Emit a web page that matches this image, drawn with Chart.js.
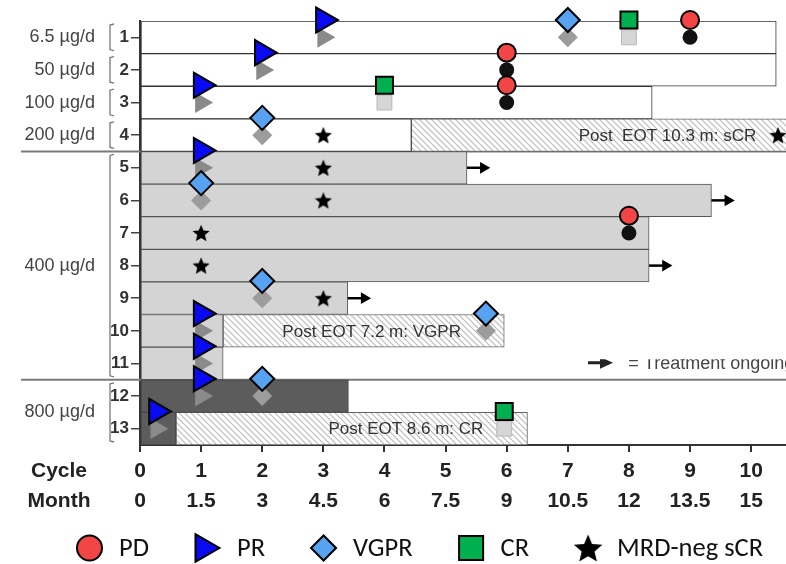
<!DOCTYPE html>
<html><head><meta charset="utf-8">
<script src="https://cdn.jsdelivr.net/npm/chart.js@4/dist/chart.umd.min.js"></script>
<style>html,body{margin:0;padding:0;background:#fff}</style>
</head><body>
<canvas id="c" width="786" height="564"></canvas>
<script>
// ---------- data ----------
const patientRows = [1,2,3,4,5,6,7,8,9,10,11,12,13];
const cycleTicks = ['0','1','2','3','4','5','6','7','8','9','10'];
const monthTicks = ['0','1.5','3','4.5','6','7.5','9','10.5','12','13.5','15'];

const doseLabels   = ['6.5 µg/d','50 µg/d','100 µg/d','200 µg/d','400 µg/d','800 µg/d'];
const doseFirstRow = [1,2,3,4,5,12];
const doseLastRow  = [1,2,3,4,11,13];
const doseLabelRow = [1,2,3,4,8,12.5];
const groupBreakAfter = [4,11];

const barRow   = [1,2,3,4,4,5,6,7,8,9,10,10,11,12,13,13];
const barStart = [0,0,0,0,4.44,0,0,0,0,0,0,1.36,0,0,0,0.59];
const barEnd   = [10.41,10.41,8.38,4.44,11,5.35,9.35,8.33,8.33,3.40,1.36,5.96,1.36,3.41,0.59,6.34];
const barKind  = ['white','white','white','white','post','light','light','light','light','light','light','post','light','dark','dark','post'];

const ongoingRow  = [5,6,8,9];
const ongoingFrom = [5.35,9.35,8.33,3.40];

const pdRow   = [1,2,3,7],             pdCycle   = [9,6,6,8];
const prRow   = [1,2,3,5,10,11,12,13], prCycle   = [3,2,1,1,1,1,1,0.27];
const vgprRow = [1,4,6,9,10,12],       vgprCycle = [7,2,1,2,5.66,2];
const crRow   = [1,3,13],              crCycle   = [8,4,5.96];
const scrRow  = [4,4,5,6,7,8,9],       scrCycle  = [3,10.44,3,3,1,1,3];

const postText  = ['Post  EOT 10.3 m: sCR','Post EOT 7.2 m: VGPR','Post EOT 8.6 m: CR'];
const postRow   = [4,10,13];
const postCycle = [8.63,3.79,4.35];

const legendNames = ['PD','PR','VGPR','CR','MRD-neg sCR'];

// ---------- helpers ----------
function makeHatch(){
  const c=document.createElement('canvas'); c.width=6; c.height=6;
  const g=c.getContext('2d'); g.fillStyle='#fff'; g.fillRect(0,0,6,6);
  g.strokeStyle='#b9b9b9'; g.lineWidth=1.1;
  g.beginPath(); g.moveTo(0,0); g.lineTo(6,6); g.moveTo(-1,5); g.lineTo(1,7); g.moveTo(5,-1); g.lineTo(7,1); g.stroke();
  return document.createElement('canvas').getContext('2d').createPattern(c,'repeat');
}
function starCanvas(R, inner){
  const size=Math.ceil(2*R)+2;
  const c=document.createElement('canvas'); c.width=size; c.height=size;
  const g=c.getContext('2d'); g.fillStyle='#000'; g.beginPath();
  const cx=size/2, cy=size/2+0.0955*R;
  for(let k=0;k<10;k++){const a=-Math.PI/2+k*Math.PI/5; const rr=k%2?R*inner:R; g.lineTo(cx+rr*Math.cos(a), cy+rr*Math.sin(a));}
  g.closePath(); g.fill(); return c;
}
const hatch = makeHatch();
const starSmall = starCanvas(9, 0.45);
const starBig = starCanvas(15, 0.45);
const LIFT = -0.53;
const pts = (rows, cyc, dy) => rows.map((r,i)=>({x:cyc[i], y:r+dy}));
const SANS = '"Liberation Sans", Arial, sans-serif';

const fills   = {white:'#ffffff', light:'#d4d4d4', dark:'#5c5c5c', post:hatch};
const borders = {white:'#333333', light:'#555555', dark:'#444444', post:'#666666'};

const barDatasets = ['white','light','dark','post'].map(k => ({
  type:'bar', indexAxis:'y', grouped:false, order:10,
  data: barRow.map((r,i)=>({x:[barStart[i],barEnd[i]], y:r, k:barKind[i]})).filter(d=>d.k===k),
  backgroundColor: fills[k], borderColor: borders[k], borderWidth:1, borderSkipped:false,
  barPercentage:1, categoryPercentage:1
}));

const arrowShafts = ongoingRow.map((r,i)=>({
  type:'line', order:8, clip:false,
  data:[{x:ongoingFrom[i], y:r},{x:ongoingFrom[i]+0.24, y:r}],
  borderColor:'#000', borderWidth:2.5, pointRadius:0, fill:false
}));
const arrowHeads = {
  type:'scatter', order:8, clip:false,
  data: ongoingRow.map((r,i)=>({x:ongoingFrom[i]+0.27, y:r})),
  pointStyle:'triangle', rotation:90, pointRadius:6.8, backgroundColor:'#000', borderWidth:0
};

const sc = (label, data, opt) => Object.assign({type:'scatter', label, data, clip:false}, opt);
const markerDatasets = [
  sc('pd-shadow',   pts(pdRow,pdCycle,0),     {order:5, pointStyle:'circle', pointRadius:7.5, backgroundColor:'#111', borderWidth:0}),
  sc('pr-shadow',   pts(prRow,prCycle,0),     {order:5, pointStyle:'triangle', rotation:90, pointRadius:12, backgroundColor:'#8a8a8a', borderWidth:0}),
  sc('vgpr-shadow', pts(vgprRow,vgprCycle,0), {order:5, pointStyle:'rectRot', pointRadius:10, backgroundColor:'#9c9c9c', borderWidth:0}),
  sc('cr-shadow',   pts(crRow,crCycle,0),     {order:5, pointStyle:'rect', pointRadius:10.5, backgroundColor:'#d6d6d6', borderColor:'#b8b8b8', borderWidth:1}),
  sc('PD',   pts(pdRow,pdCycle,LIFT),     {order:1, pointStyle:'circle', pointRadius:9, backgroundColor:'#f24646', borderColor:'#000', borderWidth:2}),
  sc('PR',   pts(prRow,prCycle,LIFT),     {order:1, pointStyle:'triangle', rotation:90, pointRadius:14.5, backgroundColor:'#0a0af2', borderColor:'#000', borderWidth:2}),
  sc('VGPR', pts(vgprRow,vgprCycle,LIFT), {order:1, pointStyle:'rectRot', pointRadius:12, backgroundColor:'#58a2f2', borderColor:'#000', borderWidth:2}),
  sc('CR',   pts(crRow,crCycle,LIFT),     {order:1, pointStyle:'rect', pointRadius:12, backgroundColor:'#00b050', borderColor:'#000', borderWidth:2}),
  sc('MRD-neg sCR', pts(scrRow,scrCycle,0), {order:0, pointStyle:starSmall, pointRadius:9})
];

// ---------- plugins ----------
const decor = {
  id:'decor',
  beforeDatasetsDraw(chart){
    const {ctx, chartArea} = chart; const ys=chart.scales.y;
    ctx.save();
    ctx.strokeStyle='#7a7a7a'; ctx.lineWidth=2;
    groupBreakAfter.forEach(r=>{const y=ys.getPixelForValue(r+0.5); ctx.beginPath(); ctx.moveTo(21,y); ctx.lineTo(chart.width,y); ctx.stroke();});
    ctx.strokeStyle='#777'; ctx.lineWidth=1.3;
    doseFirstRow.forEach((f,i)=>{
      const t=ys.getPixelForValue(f-0.5)+3, b=ys.getPixelForValue(doseLastRow[i]+0.5)-3, x=110;
      ctx.beginPath(); ctx.moveTo(x+4,t); ctx.lineTo(x,t+1); ctx.lineTo(x,b-1); ctx.lineTo(x+4,b); ctx.stroke();
    });
    ctx.fillStyle='#444'; ctx.font='18px '+SANS;
    ctx.textAlign='right'; ctx.textBaseline='middle';
    doseLabels.forEach((t,i)=>ctx.fillText(t, 95, ys.getPixelForValue(doseLabelRow[i])));
    ctx.fillStyle='#222'; ctx.font='bold 21px '+SANS; ctx.textAlign='center';
    ctx.fillText('Cycle', 59, chartArea.bottom+26);
    ctx.fillText('Month', 59, chartArea.bottom+56);
    ctx.restore();
  },
  afterDatasetsDraw(chart){
    const {ctx} = chart; const xs=chart.scales.x, ys=chart.scales.y;
    ctx.save();
    ctx.fillStyle='#333'; ctx.font='17px '+SANS;
    ctx.textAlign='center'; ctx.textBaseline='middle';
    postText.forEach((t,i)=>ctx.fillText(t, xs.getPixelForValue(postCycle[i]), ys.getPixelForValue(postRow[i])+1));
    // "treatment ongoing" key (upper part hidden in the original figure)
    ctx.beginPath(); ctx.rect(560, ys.getPixelForValue(10.87), 240, 30); ctx.clip();
    const yk = ys.getPixelForValue(10.98);
    const xa = xs.getPixelForValue(7.33);
    ctx.strokeStyle='#222'; ctx.lineWidth=3; ctx.beginPath(); ctx.moveTo(xa,yk); ctx.lineTo(xa+14,yk); ctx.stroke();
    ctx.fillStyle='#222'; ctx.beginPath(); ctx.moveTo(xa+12,yk-6); ctx.lineTo(xa+25,yk); ctx.lineTo(xa+12,yk+6); ctx.closePath(); ctx.fill();
    ctx.fillStyle='#444'; ctx.font='18px '+SANS; ctx.textAlign='left'; ctx.textBaseline='alphabetic';
    ctx.fillText('= Treatment ongoing', xs.getPixelForValue(7.99), ys.getPixelForValue(11.16));
    ctx.restore();
  },
  afterDraw(chart){
    const ctx=chart.ctx; ctx.save();
    ctx.font='26.5px Carlito, Lato, sans-serif'; ctx.textBaseline='middle'; ctx.textAlign='left';
    const y=548, mW=25, gapMT=17, gapItem=46;
    const styles=[
      {pointStyle:'circle', radius:12.5, fill:'#f24646', dx:12.5},
      {pointStyle:'triangle', rotation:90, radius:16, fill:'#0a0af2', dx:8.5},
      {pointStyle:'rectRot', radius:12.5, fill:'#58a2f2', dx:12.5},
      {pointStyle:'rect', radius:17, fill:'#00b050', dx:12.5},
      {pointStyle:starBig, radius:15, fill:'#000', dx:13}
    ];
    let x=77;
    legendNames.forEach((n,i)=>{
      const s=styles[i];
      ctx.fillStyle=s.fill; ctx.strokeStyle='#000'; ctx.lineWidth=2;
      Chart.helpers.drawPoint(ctx, {pointStyle:s.pointStyle, radius:s.radius, rotation:s.rotation||0, borderWidth: typeof s.pointStyle==='string'?2:0}, x+s.dx, y);
      const tx=x+mW+gapMT;
      ctx.fillStyle='#111'; ctx.fillText(n, tx, y+1);
      x = tx + ctx.measureText(n).width + gapItem;
    });
    ctx.restore();
  }
};

new Chart(document.getElementById('c'), {
  type:'scatter',
  data:{ datasets:[...barDatasets, ...arrowShafts, arrowHeads, ...markerDatasets] },
  options:{
    responsive:false, animation:false, events:[],
    layout:{autoPadding:false, padding:{top:21,left:0,right:0,bottom:0}},
    plugins:{legend:{display:false}, tooltip:{enabled:false}},
    scales:{
      x:{type:'linear', position:'bottom', min:0, max:10.57, offset:false,
         afterBuildTicks:a=>{a.ticks=cycleTicks.map((t,i)=>({value:i}));},
         afterFit:a=>{a.height=119; a.paddingRight=0; a.paddingLeft=0;},
         grid:{display:true, drawOnChartArea:false, drawTicks:true, tickLength:7, color:'#333', lineWidth:2, offset:false},
         border:{display:true, color:'#333', width:2},
         ticks:{autoSkip:false, maxRotation:0, padding:4, color:'#222',
           font:{family:SANS, size:21, weight:'bold', lineHeight:1.43},
           callback:v=>[cycleTicks[v], monthTicks[v]]}
      },
      y:{type:'linear', position:'left', min:0.5, max:13.5, reverse:true, offset:false,
         afterBuildTicks:a=>{a.ticks=patientRows.map(r=>({value:r}));},
         afterFit:a=>{a.width=140; a.paddingTop=0; a.paddingBottom=0;},
         grid:{display:true, drawOnChartArea:false, drawTicks:true, tickLength:9, color:'#444', lineWidth:1.5, offset:false},
         border:{display:true, color:'#333', width:2},
         ticks:{autoSkip:false, padding:2, color:'#333',
           font:{family:SANS, size:17, weight:'bold'},
           callback:v=>String(v)}
      }
    }
  },
  plugins:[decor]
});
</script>
</body></html>
